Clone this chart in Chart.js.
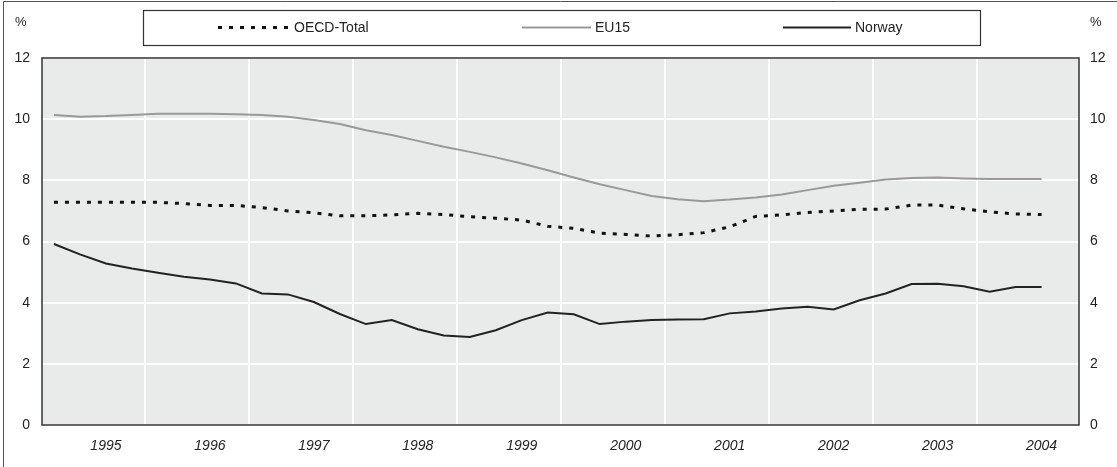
<!DOCTYPE html>
<html lang="en">
<head>
    <meta charset="UTF-8">
    <title>Unemployment rates</title>
    <script src="https://cdn.jsdelivr.net/npm/chart.js"></script>
    <style>
        html, body { margin: 0; padding: 0; background: #fff; }
        #wrap { width: 1117px; height: 467px; position: relative; }
    </style>
</head>
<body>
<div id="wrap"><canvas id="chart" width="1117" height="467"></canvas></div>
<script>
    // quarterly data, 1995 Q1 - 2004 Q3
    const years = ['1995', '1996', '1997', '1998', '1999', '2000', '2001', '2002', '2003', '2004'];
    const yTicks = [0, 2, 4, 6, 8, 10, 12];

    const oecdTotal = [
        7.28, 7.28, 7.28, 7.28,
        7.28, 7.24, 7.18, 7.18,
        7.11, 7.00, 6.94, 6.84,
        6.84, 6.87, 6.92, 6.88,
        6.81, 6.76, 6.70, 6.50,
        6.43, 6.27, 6.23, 6.18,
        6.22, 6.29, 6.48, 6.82,
        6.87, 6.95, 7.00, 7.05,
        7.06, 7.19, 7.19, 7.07,
        6.97, 6.90, 6.88
    ];
    const eu15 = [
        10.14, 10.08, 10.10, 10.14,
        10.18, 10.18, 10.18, 10.16,
        10.14, 10.08, 9.97, 9.84,
        9.64, 9.48, 9.29, 9.10,
        8.93, 8.75, 8.55, 8.33,
        8.09, 7.87, 7.68, 7.49,
        7.38, 7.32, 7.37, 7.44,
        7.54, 7.68, 7.82, 7.92,
        8.03, 8.08, 8.09, 8.06,
        8.04, 8.04, 8.04
    ];
    const norway = [
        5.92, 5.58, 5.28, 5.12,
        4.98, 4.85, 4.76, 4.63,
        4.30, 4.27, 4.02, 3.63,
        3.30, 3.43, 3.13, 2.93,
        2.88, 3.10, 3.43, 3.68,
        3.62, 3.30, 3.38, 3.43,
        3.45, 3.46, 3.65, 3.71,
        3.81, 3.87, 3.78, 4.08,
        4.30, 4.61, 4.62, 4.54,
        4.36, 4.51, 4.51
    ];

    const FONT = '"Liberation Sans", Arial, sans-serif';
    const TEXT = '#222';

    function toPoints(arr) {
        return arr.map((v, i) => ({ x: i, y: v }));
    }

    // plot background + frame, outer frame, legend box and % labels
    const decor = {
        id: 'decor',
        beforeDraw(chart) {
            const { ctx, chartArea: a } = chart;
            ctx.save();
            ctx.fillStyle = '#e9eaea';
            ctx.fillRect(a.left, a.top, a.right - a.left, a.bottom - a.top);
            ctx.restore();
        },
        afterDraw(chart) {
            const { ctx, chartArea: a } = chart;
            ctx.save();
            // plot frame
            ctx.strokeStyle = '#333';
            ctx.lineWidth = 1.5;
            ctx.strokeRect(a.left, a.top, a.right - a.left, a.bottom - a.top);

            // outer frame (top and left)
            ctx.strokeStyle = '#555';
            ctx.lineWidth = 1;
            ctx.beginPath();
            ctx.moveTo(3.5, 467);
            ctx.lineTo(3.5, 1.5);
            ctx.lineTo(1117, 1.5);
            ctx.stroke();

            // legend box
            ctx.fillStyle = '#fff';
            ctx.fillRect(143, 10, 837, 35);
            ctx.strokeStyle = '#333';
            ctx.lineWidth = 1.2;
            ctx.strokeRect(143.5, 10.5, 837, 35);

            const items = [
                { ds: 0, x0: 218, x1: 290 },
                { ds: 1, x0: 522, x1: 591 },
                { ds: 2, x0: 783, x1: 851 }
            ];
            ctx.font = '14px ' + FONT;
            ctx.textBaseline = 'middle';
            items.forEach(it => {
                const ds = chart.data.datasets[it.ds];
                ctx.strokeStyle = ds.borderColor;
                ctx.lineWidth = ds.borderWidth;
                ctx.setLineDash(ds.borderDash || []);
                ctx.beginPath();
                ctx.moveTo(it.x0, 27.5);
                ctx.lineTo(it.x1, 27.5);
                ctx.stroke();
                ctx.setLineDash([]);
                ctx.fillStyle = TEXT;
                ctx.textAlign = 'left';
                ctx.fillText(ds.label, it.x1 + 4, 28);
            });

            // unit labels
            ctx.font = '13px ' + FONT;
            ctx.fillStyle = TEXT;
            ctx.textAlign = 'left';
            ctx.fillText('%', 15, 22);
            ctx.fillText('%', 1090, 22);
            ctx.restore();
        }
    };

    const ctx = document.getElementById('chart').getContext('2d');
    new Chart(ctx, {
        type: 'line',
        data: {
            datasets: [{
                label: 'OECD-Total',
                data: toPoints(oecdTotal),
                borderColor: '#111',
                borderWidth: 3,
                borderDash: [4, 7],
                pointRadius: 0,
                tension: 0
            }, {
                label: 'EU15',
                data: toPoints(eu15),
                borderColor: '#999',
                borderWidth: 2,
                pointRadius: 0,
                tension: 0
            }, {
                label: 'Norway',
                data: toPoints(norway),
                borderColor: '#222',
                borderWidth: 2,
                pointRadius: 0,
                tension: 0
            }]
        },
        options: {
            responsive: false,
            animation: false,
            layout: { padding: { top: 58, left: 0, right: 0, bottom: 0 } },
            plugins: {
                legend: { display: false },
                tooltip: { enabled: false }
            },
            scales: {
                x: {
                    type: 'linear',
                    min: -0.46,
                    max: 39.44,
                    afterFit: s => { s.height = 42; },
                    afterBuildTicks: s => {
                        const t = [];
                        years.forEach((y, i) => {
                            t.push({ value: i * 4 + 2 });
                            if (i < years.length - 1) t.push({ value: i * 4 + 3.5 });
                        });
                        s.ticks = t;
                    },
                    ticks: {
                        autoSkip: false,
                        maxRotation: 0,
                        padding: 13,
                        color: TEXT,
                        font: { family: FONT, size: 14, style: 'italic' },
                        callback: v => Number.isInteger(v) ? years[(v - 2) / 4] : ''
                    },
                    grid: {
                        drawTicks: false,
                        lineWidth: 2,
                        color: c => (c.tick && !Number.isInteger(c.tick.value)) ? '#fff' : 'rgba(0,0,0,0)'
                    },
                    border: { display: false }
                },
                y: {
                    position: 'left',
                    min: 0,
                    max: 12,
                    afterFit: s => { s.width = 42; },
                    afterBuildTicks: s => { s.ticks = yTicks.map(v => ({ value: v })); },
                    ticks: {
                        padding: 12,
                        color: TEXT,
                        font: { family: FONT, size: 14 }
                    },
                    grid: { drawTicks: false, lineWidth: 2, color: '#fff' },
                    border: { display: false }
                },
                y2: {
                    position: 'right',
                    min: 0,
                    max: 12,
                    afterFit: s => { s.width = 38; },
                    afterBuildTicks: s => { s.ticks = yTicks.map(v => ({ value: v })); },
                    ticks: {
                        padding: 11,
                        color: TEXT,
                        font: { family: FONT, size: 14 }
                    },
                    grid: { display: false, drawTicks: false },
                    border: { display: false }
                }
            }
        },
        plugins: [decor]
    });
</script>
</body>
</html>
